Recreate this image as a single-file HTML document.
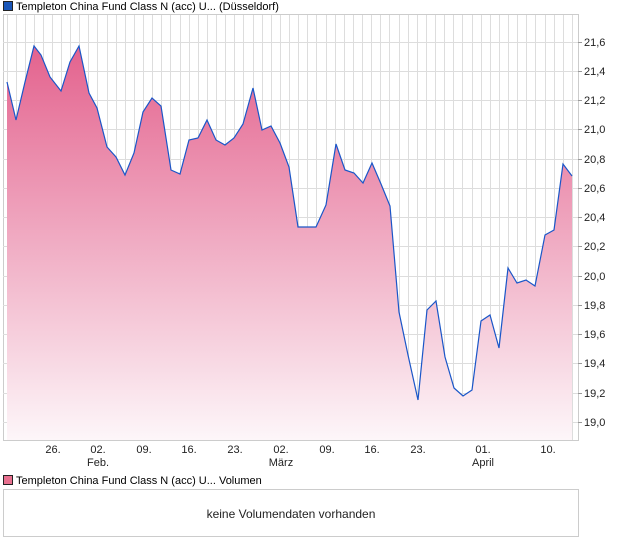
<!DOCTYPE html>
<html><head><meta charset="utf-8"><style>
body{margin:0;background:#fff;font-family:"Liberation Sans",sans-serif;}
svg{display:block}
</style></head><body>
<svg width="620" height="546" xmlns="http://www.w3.org/2000/svg" font-family="Liberation Sans, sans-serif">
<defs>
<linearGradient id="g" x1="0" y1="40" x2="0" y2="440" gradientUnits="userSpaceOnUse">
<stop offset="0" stop-color="#e3608c"/>
<stop offset="1" stop-color="#fdf6f9"/>
</linearGradient>
</defs>
<rect x="3.5" y="1.5" width="9" height="9" fill="#1a56b8" stroke="#222" stroke-width="1"/>
<text x="16" y="10" font-size="11" fill="#000">Templeton China Fund Class N (acc) U... (Düsseldorf)</text>
<rect x="3.5" y="14.5" width="575" height="426" fill="#fff" stroke="#ccc"/>
<g stroke="#ddd" stroke-width="1" id="vg"></g>
<g stroke="#ddd" stroke-width="1">
<line x1="3" y1="42.5" x2="578" y2="42.5"/><line x1="3" y1="71.5" x2="578" y2="71.5"/>
<line x1="3" y1="100.5" x2="578" y2="100.5"/><line x1="3" y1="129.5" x2="578" y2="129.5"/>
<line x1="3" y1="159.5" x2="578" y2="159.5"/><line x1="3" y1="188.5" x2="578" y2="188.5"/>
<line x1="3" y1="217.5" x2="578" y2="217.5"/><line x1="3" y1="246.5" x2="578" y2="246.5"/>
<line x1="3" y1="276.5" x2="578" y2="276.5"/><line x1="3" y1="305.5" x2="578" y2="305.5"/>
<line x1="3" y1="334.5" x2="578" y2="334.5"/><line x1="3" y1="363.5" x2="578" y2="363.5"/>
<line x1="3" y1="393.5" x2="578" y2="393.5"/><line x1="3" y1="422.5" x2="578" y2="422.5"/>
</g>
<g stroke="#ddd">
<path d="M7.5 15V440M16.5 15V440M25.5 15V440M34.5 15V440M43.5 15V440M52.5 15V440M61.5 15V440M70.5 15V440M79.5 15V440M88.5 15V440M97.5 15V440M107.5 15V440M116.5 15V440M125.5 15V440M134.5 15V440M143.5 15V440M152.5 15V440M161.5 15V440M170.5 15V440M180.5 15V440M189.5 15V440M198.5 15V440M207.5 15V440M216.5 15V440M225.5 15V440M234.5 15V440M243.5 15V440M253.5 15V440M262.5 15V440M271.5 15V440M280.5 15V440M289.5 15V440M298.5 15V440M307.5 15V440M316.5 15V440M326.5 15V440M335.5 15V440M344.5 15V440M353.5 15V440M362.5 15V440M371.5 15V440M380.5 15V440M389.5 15V440M399.5 15V440M408.5 15V440M417.5 15V440M426.5 15V440M435.5 15V440M444.5 15V440M453.5 15V440M462.5 15V440M472.5 15V440M481.5 15V440M490.5 15V440M499.5 15V440M508.5 15V440M517.5 15V440M526.5 15V440M535.5 15V440M545.5 15V440M554.5 15V440M563.5 15V440M572.5 15V440"/>
</g>
<path fill="url(#g)" d="M7,82 L16,120 L25,82 L34,46 L41,55 L50,77 L61,91 L70,62 L79,46 L89,93 L97,108 L107,147 L116,157 L125,175 L134,153 L143,112 L152,98 L161,106 L171,170 L180,174 L189,140 L198,138 L207,120 L216,140 L225,145 L234,138 L243,124 L253,88 L262,130 L271,126 L280,143 L289,167 L298,227 L307,227 L316,227 L326,205 L336,144 L345,170 L354,173 L363,183 L372,163 L381,184 L390,206 L399,312 L408,355 L418,400 L427,310 L436,301 L445,357 L454,388 L463,396 L472,390 L481,321 L490,315 L499,348 L508,268 L517,283 L526,280 L535,286 L545,235 L554,230 L563,164 L572,176 L572,440 L7,440 Z"/>
<path fill="none" stroke="#1a56c8" stroke-width="1.2" d="M7,82 L16,120 L25,82 L34,46 L41,55 L50,77 L61,91 L70,62 L79,46 L89,93 L97,108 L107,147 L116,157 L125,175 L134,153 L143,112 L152,98 L161,106 L171,170 L180,174 L189,140 L198,138 L207,120 L216,140 L225,145 L234,138 L243,124 L253,88 L262,130 L271,126 L280,143 L289,167 L298,227 L307,227 L316,227 L326,205 L336,144 L345,170 L354,173 L363,183 L372,163 L381,184 L390,206 L399,312 L408,355 L418,400 L427,310 L436,301 L445,357 L454,388 L463,396 L472,390 L481,321 L490,315 L499,348 L508,268 L517,283 L526,280 L535,286 L545,235 L554,230 L563,164 L572,176"/>
<g stroke="#999"><path d="M578 42.5h4M578 71.5h4M578 100.5h4M578 129.5h4M578 159.5h4M578 188.5h4M578 217.5h4M578 246.5h4M578 276.5h4M578 305.5h4M578 334.5h4M578 363.5h4M578 393.5h4M578 422.5h4"/></g>
<g font-size="11" fill="#222">
<text x="584" y="46">21,6</text><text x="584" y="75">21,4</text><text x="584" y="104">21,2</text><text x="584" y="133">21,0</text>
<text x="584" y="163">20,8</text><text x="584" y="192">20,6</text><text x="584" y="221">20,4</text><text x="584" y="250">20,2</text>
<text x="584" y="280">20,0</text><text x="584" y="309">19,8</text><text x="584" y="338">19,6</text><text x="584" y="367">19,4</text>
<text x="584" y="397">19,2</text><text x="584" y="426">19,0</text>
</g>
<g font-size="11" fill="#222" text-anchor="middle">
<text x="53" y="453">26.</text><text x="98" y="453">02.</text><text x="144" y="453">09.</text><text x="189" y="453">16.</text>
<text x="235" y="453">23.</text><text x="281" y="453">02.</text><text x="327" y="453">09.</text><text x="372" y="453">16.</text>
<text x="418" y="453">23.</text><text x="483" y="453">01.</text><text x="548" y="453">10.</text>
<text x="98" y="466">Feb.</text><text x="281" y="466">März</text><text x="483" y="466">April</text>
</g>
<rect x="3.5" y="475.5" width="9" height="9" fill="#e8708f" stroke="#222"/>
<text x="16" y="484" font-size="11" fill="#000">Templeton China Fund Class N (acc) U... Volumen</text>
<rect x="3.5" y="489.5" width="575" height="47" fill="#fff" stroke="#ccc"/>
<text x="291" y="518" font-size="12" fill="#222" text-anchor="middle">keine Volumendaten vorhanden</text>
</svg>
</body></html>
